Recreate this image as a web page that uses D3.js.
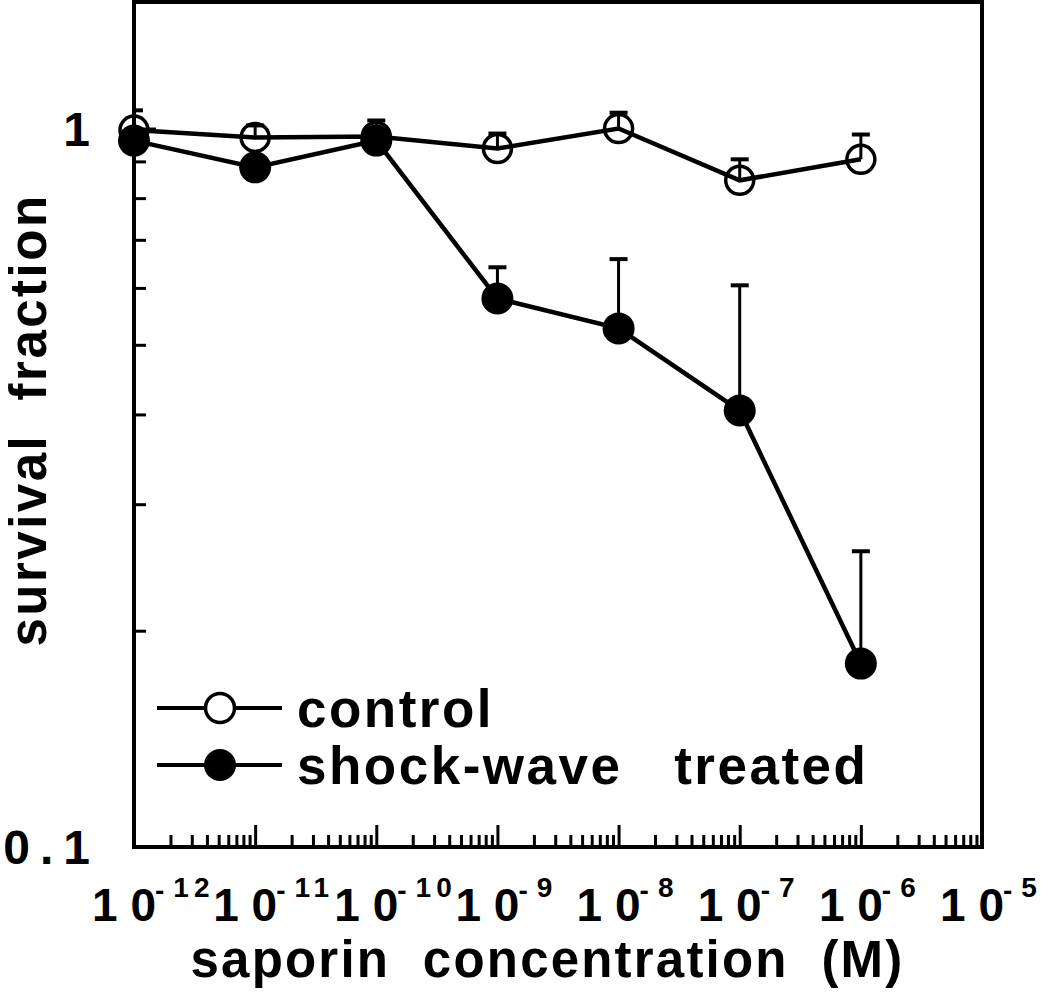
<!DOCTYPE html>
<html>
<head>
<meta charset="utf-8">
<script src="https://cdn.jsdelivr.net/npm/d3@7"></script>
<style>
  html, body { margin: 0; padding: 0; background: #fff; }
  svg { display: block; }
  text { font-family: "Liberation Sans", Arial, Helvetica, sans-serif; font-weight: bold; fill: #000; }
</style>
</head>
<body>
<svg id="chart" width="1050" height="999"></svg>
<script>
// ---- data ----
const concentrations = [1e-12, 1e-11, 1e-10, 1e-9, 1e-8, 1e-7, 1e-6];
const controlMean    = [0.995, 0.972, 0.975, 0.938, 1.0, 0.847, 0.906];
const controlUpper   = [1.06, 1.01, 1.026, 0.984, 1.052, 0.906, 0.981];
const treatedMean    = [0.962, 0.883, 0.962, 0.580, 0.527, 0.405, 0.180];
const treatedUpper   = [0.962, 0.883, 0.962, 0.641, 0.658, 0.605, 0.258];
const xTickExponents = [-12, -11, -10, -9, -8, -7, -6, -5];
const yMajorTicks    = [0.1, 1];
const yMajorLabels   = ["0.1", "1"];
const yMinorTicks    = [0.2, 0.3, 0.4, 0.5, 0.6, 0.7, 0.8, 0.9];
const seriesNames    = ["control", "shock-wave   treated"];
const xTitle = "saporin  concentration  (M)";
const yTitle = "survival  fraction";

// ---- layout ----
const L = 134, R = 982, T = 2, B = 847;
const svg = d3.select("#chart");
const x = d3.scaleLog().domain([1e-12, 1e-5]).range([L, R]);
const y = d3.scaleLog().domain([0.1, 1.5]).range([B, T]);

svg.append("defs").append("clipPath").attr("id", "plotclip")
  .append("rect").attr("x", L).attr("y", T).attr("width", R - L).attr("height", B - T);

// minor x ticks
const xMinor = [];
for (let e = -12; e < -5; e++) for (let m = 2; m <= 9; m++) xMinor.push(m * Math.pow(10, e));

const gx = svg.append("g").attr("transform", `translate(0,${B})`);
gx.call(d3.axisBottom(x).tickValues(xMinor).tickSize(-12).tickFormat(""));
const gxM = svg.append("g").attr("transform", `translate(0,${B})`);
gxM.call(d3.axisBottom(x).tickValues(xTickExponents.map(e => Math.pow(10, e))).tickSize(-22).tickFormat(""));
[gx, gxM].forEach(g => {
  g.select(".domain").remove();
  g.selectAll(".tick line").attr("stroke", "#000").attr("stroke-width", 3);
});

// x tick labels with superscripts
const xl = svg.append("g");
xTickExponents.forEach(e => {
  const px = x(Math.pow(10, e));
  xl.append("text").attr("x", px + 22).attr("y", 921).attr("text-anchor", "end")
    .style("font-size", "46px").style("white-space", "pre").text("1 0");
  const t = xl.append("text").attr("x", px + 21).attr("y", 897).style("font-size", "28px");
  t.append("tspan").attr("dy", 3).text("-");
  t.append("tspan").attr("dy", -3).attr("dx", 9).style("letter-spacing", "5px").text(String(-e));
});

// y ticks
const gy = svg.append("g").attr("transform", `translate(${L},0)`);
gy.call(d3.axisRight(y).tickValues(yMinorTicks).tickSize(12).tickFormat(""));
const gyM = svg.append("g").attr("transform", `translate(${L},0)`);
gyM.call(d3.axisRight(y).tickValues(yMajorTicks).tickSize(22).tickFormat(""));
[gy, gyM].forEach(g => {
  g.select(".domain").remove();
  g.selectAll(".tick line").attr("stroke", "#000").attr("stroke-width", 3);
});
// y tick labels
svg.append("g").selectAll("text").data(yMajorTicks).join("text")
  .attr("x", 90 + 10).attr("y", d => y(d) + 17).attr("text-anchor", "end")
  .style("font-size", "48px").style("letter-spacing", "10px")
  .text((d, i) => yMajorLabels[i]);

// frame
svg.append("rect").attr("x", L).attr("y", T).attr("width", R - L).attr("height", B - T)
  .attr("fill", "none").attr("stroke", "#000").attr("stroke-width", 4);

// titles
svg.append("text").attr("x", (190 + 905) / 2).attr("y", 977).attr("text-anchor", "middle")
  .style("font-size", "51px").style("letter-spacing", "2.2px").style("white-space", "pre").text(xTitle);
svg.append("text").attr("transform", "translate(46,420) rotate(-90)").attr("text-anchor", "middle")
  .style("font-size", "51px").style("letter-spacing", "2.5px").style("white-space", "pre").text(yTitle);

const line = d3.line().x(d => x(d[0])).y(d => y(d[1]));
const ctrl = concentrations.map((c, i) => [c, controlMean[i], controlUpper[i]]);
const trt = concentrations.map((c, i) => [c, treatedMean[i], treatedUpper[i]]);

function errorBars(data) {
  const g = svg.append("g").attr("clip-path", "url(#plotclip)");
  data.forEach(d => {
    if (d[2] <= d[1]) return;
    const px = x(d[0]);
    g.append("line").attr("x1", px).attr("x2", px).attr("y1", y(d[1])).attr("y2", y(d[2]))
      .attr("stroke", "#000").attr("stroke-width", 3);
    g.append("line").attr("x1", px - 9).attr("x2", px + 9).attr("y1", y(d[2])).attr("y2", y(d[2]))
      .attr("stroke", "#000").attr("stroke-width", 4);
  });
}

// control series
svg.append("path").datum(ctrl).attr("d", line).attr("fill", "none").attr("stroke", "#000").attr("stroke-width", 4.5);
errorBars(ctrl);
svg.append("g").selectAll("circle").data(ctrl).join("circle")
  .attr("cx", d => x(d[0])).attr("cy", d => y(d[1])).attr("r", 14)
  .attr("fill", "none").attr("stroke", "#000").attr("stroke-width", 3.5);

// treated series
svg.append("path").datum(trt).attr("d", line).attr("fill", "none").attr("stroke", "#000").attr("stroke-width", 4.5);
errorBars(trt);
svg.append("g").selectAll("circle").data(trt).join("circle")
  .attr("cx", d => x(d[0])).attr("cy", d => y(d[1])).attr("r", 16)
  .attr("fill", "#000");

// legend
const legY = [708, 765];
const lg = svg.append("g");
seriesNames.forEach((name, i) => {
  lg.append("line").attr("x1", 157).attr("x2", 282).attr("y1", legY[i]).attr("y2", legY[i])
    .attr("stroke", "#000").attr("stroke-width", 4);
  if (i === 0) {
    lg.append("circle").attr("cx", 220).attr("cy", legY[i]).attr("r", 14.5)
      .attr("fill", "#fff").attr("stroke", "#000").attr("stroke-width", 3.5);
  } else {
    lg.append("circle").attr("cx", 220).attr("cy", legY[i]).attr("r", 16).attr("fill", "#000");
  }
  lg.append("text").attr("x", 297).attr("y", legY[i] + 19)
    .style("font-size", "53px").style("letter-spacing", "2.5px").style("white-space", "pre").text(name);
});
</script>
</body>
</html>
